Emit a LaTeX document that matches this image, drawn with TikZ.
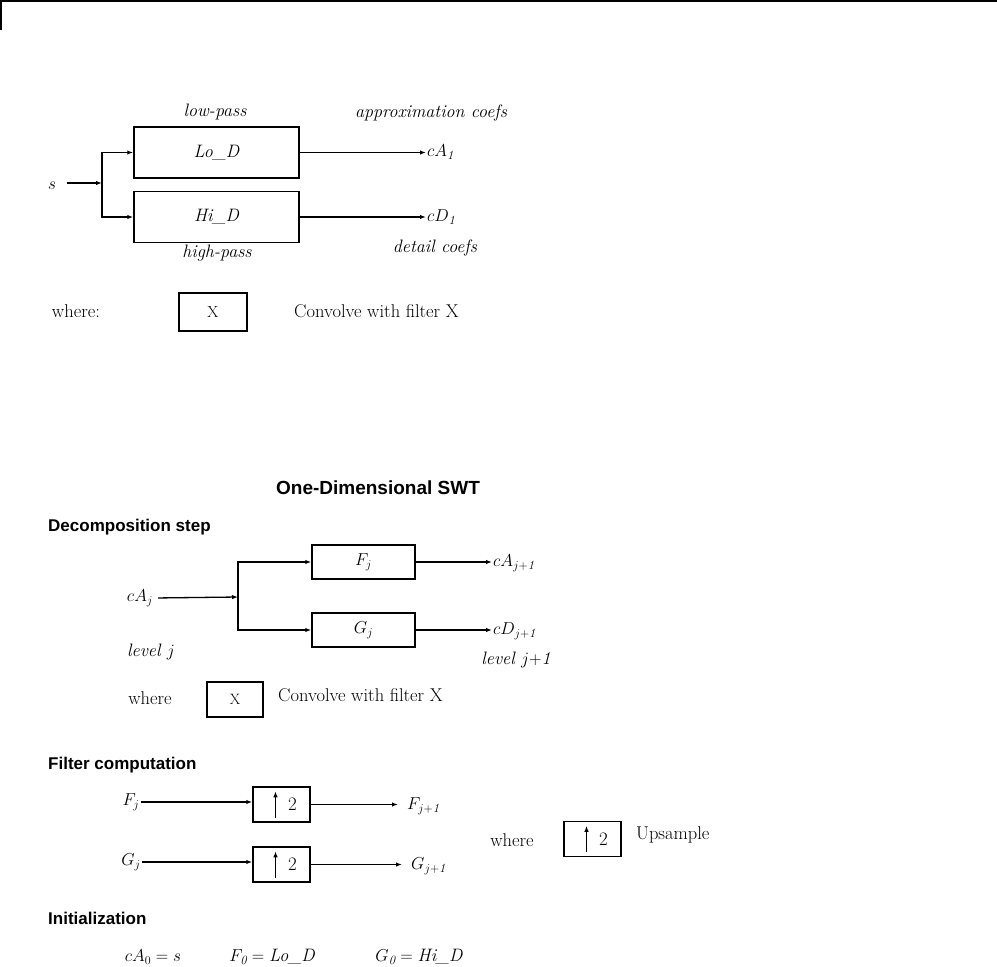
\documentclass[tikz,border=0pt]{standalone}
\usepackage{fontspec}
\newfontfamily\headfont{Liberation Sans}
\usetikzlibrary{arrows.meta}
\usetikzlibrary{positioning}

\begin{document}
\begin{tikzpicture}[x=1pt,y=-1pt,
    box/.style={draw,line width=1.5pt,minimum width=165pt,minimum height=51pt,font=\fontsize{18}{20}\selectfont\itshape},
    sbox/.style={draw,line width=1.5pt,minimum width=103pt,minimum height=34pt,font=\fontsize{18}{20}\selectfont},
    xbox/.style={draw,line width=1.5pt,font=\fontsize{16}{18}\selectfont},
    upbox/.style={draw,line width=1.5pt,minimum width=57pt,minimum height=35pt,font=\fontsize{19}{21}\selectfont},
    lbl/.style={font=\fontsize{18}{20}\selectfont\itshape,inner sep=1pt},
    txt/.style={font=\fontsize{18.5}{21}\selectfont,inner sep=1pt},
    head/.style={font=\headfont\bfseries\fontsize{17}{19}\selectfont,anchor=west,inner sep=0pt},
    arr/.style={line width=1.3pt,-{Latex[length=6pt,width=4.5pt]}}]

  \useasboundingbox (0,0) rectangle (997,967);
  % frame corner
  \draw[line width=1.5pt] (0.75,30) -- (0.75,0.75) -- (997,0.75);

  % one level of the decomposition
  \node[box] (lo) at (216.5,152.5) {Lo\_D};
  \node[box] (hi) at (216.5,217) {Hi\_D};
  \node[lbl] (s) at (52,186) {$s$};
  \coordinate (sp1) at (102,183);
  \draw[arr,shorten <=10pt] ([yshift=3pt]s.east) -- (sp1);
  \draw[arr] (sp1) |- (lo.west);
  \draw[arr] (sp1) |- (hi.west);
  \node[lbl,anchor=west] (ca1) at (426,152) {$cA_{\mathit{1}}$};
  \node[lbl,anchor=west] (cd1) at (426,217) {$cD_{\mathit{1}}$};
  \draw[arr] (lo.east) -- (lo.east -| ca1.west);
  \draw[arr] (hi.east) -- (hi.east -| cd1.west);
  \node[lbl] (lp) at (215,112) {low-pass};
  \node[lbl] (ac) at (431,113) {approximation coefs};
  \node[lbl] (hp) at (217,253) {high-pass};
  \node[lbl] (dc) at (435,248) {detail coefs};

  \node[txt] (wh1) at (76,311) {where:};
  \node[xbox,minimum width=68pt,minimum height=38pt] (x1) at (213,312) {X};
  \node[txt,anchor=west] (cv1) at (293,311) {Convolve with filter X};

  % SWT
  \node[head,anchor=center,font=\headfont\bfseries\fontsize{19}{21}\selectfont] (title) at (378,488) {One-Dimensional SWT};
  \node[head] (dec) at (48,527) {Decomposition step};
  \node[lbl] (caj) at (140,598) {$cA_j$};
  \coordinate (sp2) at (238,597);
  \draw[arr,shorten <=4pt] (caj.east) -- (sp2);
  \node[sbox] (f) at (363.5,562) {$F_j$};
  \node[sbox] (g) at (363.5,630) {$G_j$};
  \draw[arr] (sp2) |- (f.west);
  \draw[arr] (sp2) |- (g.west);
  \node[lbl,anchor=west] (caj1) at (492,563) {$cA_{j+\mathit{1}}$};
  \node[lbl,anchor=west] (cdj1) at (492,631) {$cD_{j+\mathit{1}}$};
  \draw[arr] (f.east) -- (f.east -| caj1.west);
  \draw[arr] (g.east) -- (g.east -| cdj1.west);
  \node[lbl] (lvj) at (151,652) {level $j$};
  \node[lbl] (lvj1) at (516,660) {level $j{+}\mathit{1}$};

  \node[txt] (wh2) at (150,698) {where};
  \node[xbox,minimum width=56pt,minimum height=35pt,font=\fontsize{15}{17}\selectfont] (x2) at (235,699.5) {X};
  \node[txt,anchor=west] (cv2) at (277,695) {Convolve with filter X};

  \node[head] (filt) at (48,765) {Filter computation};
  \node[lbl] (fj) at (131,802) {$F_j$};
  \node[upbox] (u1) at (281.5,804.5) {\hspace*{22pt}2};
  \node[lbl,anchor=west] (fj1) at (406,806) {$F_{j+\mathit{1}}$};
  \draw[arr] (fj.east) -- (fj.east -| u1.west);
  \draw[arr,shorten >=8pt] (u1.east) -- (u1.east -| fj1.west);
  \node[lbl] (gj) at (131,862) {$G_j$};
  \node[upbox] (u2) at (281.5,864.5) {\hspace*{22pt}2};
  \node[lbl,anchor=west] (gj1) at (410,866) {$G_{j+\mathit{1}}$};
  \draw[arr] (gj.east) -- (gj.east -| u2.west);
  \draw[arr,shorten >=8pt] (u2.east) -- (u2.east -| gj1.west);

  \node[txt] (wh3) at (512,840) {where};
  \node[upbox] (u3) at (592.5,839) {\hspace*{22pt}2};
  \node[txt,anchor=west] (ups) at (635,835) {Upsample};
  \draw[arr] ([xshift=-6pt,yshift=5pt]u1.south) -- ([xshift=-6pt,yshift=-5pt]u1.north);
  \draw[arr] ([xshift=-6pt,yshift=5pt]u2.south) -- ([xshift=-6pt,yshift=-5pt]u2.north);
  \draw[arr] ([xshift=-6pt,yshift=5pt]u3.south) -- ([xshift=-6pt,yshift=-5pt]u3.north);

  \node[head] (init) at (48,918) {Initialization};
  \node[lbl] (i1) at (153,957) {$cA_0 = s$};
  \node[lbl] (i2) at (272,957) {$F_{\mathit{0}} = {}$Lo\_D};
  \node[lbl] (i3) at (419,957) {$G_{\mathit{0}} = {}$Hi\_D};
\end{tikzpicture}
\end{document}
